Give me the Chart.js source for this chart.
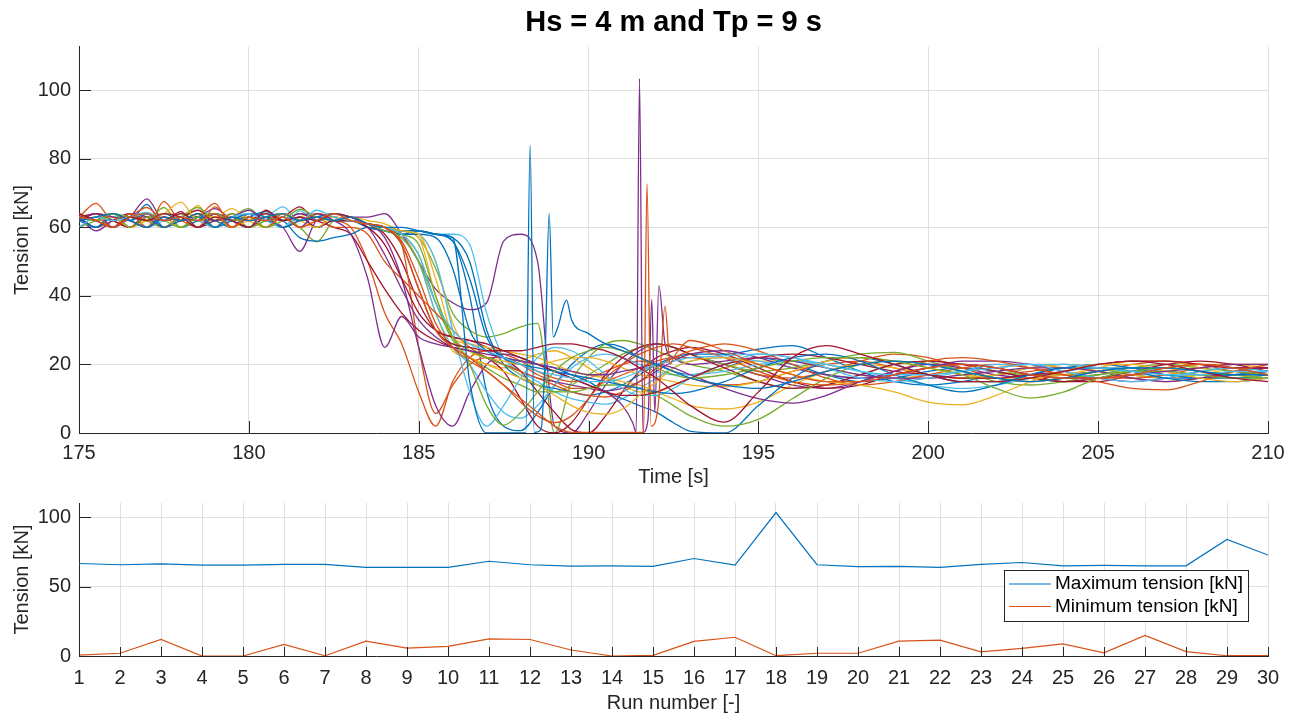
<!DOCTYPE html>
<html>
<head>
<meta charset="utf-8">
<title>Hs = 4 m and Tp = 9 s</title>
<script src="https://cdn.jsdelivr.net/npm/chart.js@4.4.1/dist/chart.umd.min.js"></script>
<style>
  body { margin: 0; background: #fff; }
  canvas { position: absolute; left: 0; }
  #top { top: 0; }
  #bottom { top: 483px; }
</style>
</head>
<body>
<canvas id="top" width="1301" height="490"></canvas>
<canvas id="bottom" width="1301" height="236"></canvas>
<script>
// time samples shared by all runs (finer steps around the slack events)
const timeGrid = [175, 175.5, 176, 176.5, 177, 177.5, 178, 178.5, 179, 179.5, 180, 180.5, 181, 181.5, 182, 182.5, 183,
    183.5, 184, 184.5, 185, 185.5, 186, 186.5, 187, 187.5, 188, 188.5, 189, 189.5, 190, 190.5, 191, 191.5, 192, 192.5, 193,
    194, 195, 196, 197, 198, 199, 200, 201, 202, 203, 204, 205, 206, 207, 208, 209, 210];
const timeTicks = [175, 180, 185, 190, 195, 200, 205, 210];
const tensionTicks = [0, 20, 40, 60, 80, 100];

// tension [kN] per run (null = sample replaced by a spike below)
const run01 = [63,60,64,62,66.7,60,63,62,64,60,63,64,62,63,60,62,62, 60,59,58,59,58,56,40,12,2,0.7,6,14,20,24,26,25,22,20,18,17, 19,22,20,17,15,16,18,19,18,16,15,16,18,19,18,16,16];
const run02 = [62,64,60,63,65.8,62,63,60,64,62,63,60,64,62,63,62,60, 50,35,26,12,2,15,22,24,23,21,18,16,15,16,18,20,21,20,18,16, 14,15,18,20,21,19,17,16,17,18,19,18,16,15,16,18,19];
const run03 = [64,62,63,60,63,64,62,66.4,60,63,62,64,60,63,64,62,63, 62,61,58,50,35,24,22,20,19,21,23,24,22,19,16,14,12,12,14,16, 19,21,21,19,17,16,17,18,19,20,19,18,17,18,20,20,19];
const run04 = [60,63,62,64,60,63,62,63,65.5,62,60,63,64,62,63,64,63, 63,64,58,50,42,38,36,38,56,58,50,2,0,6,14,20,24,26,25,23, 20,17,14,13,15,18,20,19,17,16,17,18,19,18,17,17,18];
const run05 = [63,62,64,60,63,62,64,63,60,63,65.5,62,63,60,55.8,62,63, 61,60,59,57,48,35,30,28,29,31,32,0,15,22,26,27,26,24,22,20, 18,15,13,14,17,20,21,20,18,17,17,18,19,19,18,17,17];
const run06 = [62,63,60,64,62,63,60,63,62,64,62,63,66,62,63,62,63, 61,60,59,59,58,58,55,35,22,18,15,12,10,9,8.4,10,13,16,19,21, 22,21,19,17,16,17,19,20,19,17,16,17,18,17,16,17,18];
const run07 = [63,64,62,60,63,62,64,62,63,60,64,62,63,66,62,63,62, 61,58,50,38,30,28,27,25,22,18,12,6,1,0,5,12,18,22,24,25, 23,19,15,13,14,17,19,20,19,17,15,15,17,19,20,19,17];
const run08 = [62,63,60,64,62,63,60,62,64,62,60,63,62,57,56,57,58, 60,60,59,59,58,57,50,30,20,16,14,13,12,11,12,14,17,20,22,23, 23,24.5,25.5,22,18,15,14,15,17,19,20,19,17,16,16,17,18];
const run09 = [63,60,62,64,62,60,63,62,60,64,62,63,60,62,64,63,62, 61,60,55,25,5.7,14,20,22,22,20,17,15,13,13,15,17,19,21,22,22, 20,17,16,18,21,23,22,19,16,15,16,18,20,21,20,18,17];
const run10 = [62,64,63,60,62,63,60,64,62,60,63,62,64,60,62,63,62, 61,60,59,57,40,28,26,25,24,23,22,20,18,17,16,15,14,12,10,8, 7,9,14,18,20,19,17,16,17,19,20,19,17,16,17,18,19];
const run11 = [62,64,60,63,68.3,62,63,60,64,62,63,62,60,53,62,63,62, 60,52,42,33,28,25,24,22,20,18,16,15,14,13,12.3,13,15,18,21,23, 24,22,19,17,16,17,19,21,21,20,18,16,15,16,18,19,19];
const run12 = [63,62,60,63,62,65.8,60,63,62,64,60,62,63,62,64,63,62, 61,60,58,52,38,27,22,19,16,14,12,12,14,17,20,23,25,26,25,23, 20,18,19,21,23,23.5,21,18,15,14,15,17,19,20,19,18,17];
const run13 = [60,63,62,64,60,62,63,60,63,62,64,63,60,64.8,62,63,62, 61,59,57,50,35,25,20,12,6,4.3,8,14,19,22,23,22,20,18,17,17, 18,20,21,20,18,16,14,13,14,16,18,19,19,18,17,16,16];
const run14 = [64,62,63,60,64,62,63,65,62,63,60,63,62,64,62,60,58, 50,42,35,30,27,25,24,22,18,10,2,0,3,10,17,22,25,26,25,23, 19,15,13,14,17,20,21,20,18,16,15,16,18,20,21,20,18];
const run15 = [62,60,63,62,60,64,62,63,62,60,63,64.6,62,63,60,62,62, 60,59,58,58,57,48,30,24,22,21,20,19,17,15,12,10,8,6,3,0.5, 0,8,16,21,22,20,17,15,15,17,19,20,19,17,16,16,17];
const run16 = [63,67,62,64,60,67.5,62,63,67,60,63,62,64,62,63,60,60, 58,50,45,40,35,30,25,22,20,18,16,14,12,11,10.5,12,15,19,22,24, 26,24,20,16,14,15,17,19,20,19,17,16,16,17,19,20,20];
const run17 = [62,63,64,62,60,63,62,64,63,65.5,62,60,63,62,64,63,62, 61,60,59,58,50,32,24,22,21,20,20,21,22,22,21,19,17,16,15,14, 13.5,15,18,21,22,21,19,17,16,16,17,19,21,21,19,17,16];
const run18 = [63,59,62,64,63,60,62,63,64,62,60,63,62,64,63,62,62, 61,57,45,25,8,2,12,20,23,22,20,18,16,14,12,8,null,null,22,20, 21,22,21,19,17,16,16,17,18,19,19,18,16,15,16,18,19];
const run19 = [60,62,64,63,62,60,63,65.8,62,63,60,62,64,62,63,62,63, 61,60,58,55,40,28,24,22,20,17,14,12,12,13,14,14,13,11,8,5, 2,4,10,16,20,21,20,18,16,15,16,17,18,18,17,16,16];
const run20 = [63,62,60,63,64.4,62,63,60,62,63,64,62,60,63,62,64,63, 61,60,59,58,50,30,12,2,8,16,22,25,24,21,17,13,11,11,13,16, 20,23,22,19,16,15,16,18,20,20,18,16,15,16,18,19,18];
const run21 = [62,64,62,60,63,62,64.6,60,62,63,62,64,62,63,60,62,62, 60,55,45,35,30,28,27,26,24,22,20,18,16,14,12,11,11,12,14,16, 20,22,23,22,20,18,17,16,16,17,18,20,21,21,20,19,19];
const run22 = [63,60,63,62,64,60,62,63,60,62,64,63,60,62,63,64,63, 61,60,59,59,58,56,45,28,22,20,19,18,17,16,15,14,13,12,11.5,12, 15,19,22,23,21,17,14,12,14,17,19,19,18,16,15,15,16];
const run23 = [62,63,60,64,62,63,62,60,66,62,63,60,63,62,64,63,62, 61,60,56,45,32,25,21,18,14,9,5,3,5,10,16,20,23,25,26,25, 22,18,15,14,15,18,21,22,21,19,17,15,13,12.6,15,18,20];
const run24 = [64,62,63,60,62,64,67.4,62,63,60,62,63,64,62,60,63,62, 61,60,59,58,45,28,22,20,18,16,14,11,8,6,5.5,7,11,15,19,21, 22,20,17,15,14,12,9,8.2,11,15,18,20,20,18,16,15,16];
const run25 = [62,64,63,62,60,63,62,64,62,63,65,62,63,60,64,62,58, 45,25,34,28,26,25,24,23,22,21,20,19,18,17,17,18,19,20,19,17, 13,10,8.7,11,15,18,20,20,19,17,16,16,17,18,19,20,20];
const run26 = [63,62,64,60,63,62,60,63,64,62,63,60,62,65.3,63,62,63, 61,59,57,50,38,28,20,8,2.3,6,12,18,22,24,25,24,22,19,17,16, 17,19,21,22,22,21,19,17,13,10.2,12,16,18,19,18,17,16];
const run27 = [60,63,62,63,64,62,63,62,60,63,64,62,63,62,65,63,62, 61,60,58,52,38,30,26,24,22,20,18,17,16,15,15,16,18,20,21,22, 22.5,23,22,20,18,17,17,18,19,20,20,19,18,17,17,18,18];
const run28 = [64,62,60,63,62,64,63,60,63,62,60,65,62,63,62,64,63, 61,60,55,42,30,26,25,24,24,24,25,26,26,25,24,22,19,16,12,8, 3.2,12,22,25.5,23,20,17,15,15,16,18,20,21,20,18,16,15];
const run29 = [62,63,64,62,60,63,62,64,60,63,62,63,64,62,63,62,63, 61,60,60,59,58,57,15,0,0,0,null,null,33,29,26,24,22,20,18,16, 14,13,15,18,20,21,20,18,16,15,16,18,19,19,18,17,17];
const run30 = [63,62,60,63,64,62,63,62,64,60,63,62,63,60,62,64,62, 61,60,55,42,30,25,22,18,14,10,6,2,0.2,0.2,0.2,0.2,0.2,null,22,27, 24,20,17,15,15,17,19,20,19,17,16,16,17,19,20,19,17];

// narrow snap-load spikes as [time, tension]
const spike18 = [[191.3, 3], [191.4, 0.2], [191.5, 103.4], [191.6, 0.2], [191.75, 4], [191.86, 39], [191.95, 6], [192.07, 43], [192.25, 26]];
const spike29 = [[188.15, 0], [188.28, 84], [188.4, 0.2], [188.6, 1], [188.72, 22], [188.84, 64], [188.96, 28], [189.1, 31], [189.35, 38.8]];
const spike30 = [[191.62, 0.2], [191.72, 72.8], [191.84, 2], [192.05, 8], [192.25, 37], [192.4, 20]];

// summary per run
const runNumbers = [1,2,3,4,5,6,7,8,9,10,11,12,13,14,15,16,17,18,19,20,21,22,23,24,25,26,27,28,29,30];
const maxTension = [66.7,65.8,66.4,65.5,65.5,66,66,63.9,63.9,63.9,68.3,65.8,64.8,65,64.6,70.3,65.5,103.4,65.8,64.4,64.6,63.9,66,67.4,65,65.3,65,65,84,72.8];
const minTension = [0.7,2,11.9,0,0,8.4,0.2,10.7,5.7,7,12.3,11.9,4.3,0,0.5,10.5,13.5,0.2,2,2,10.7,11.4,3,5.5,8.7,2.3,14.8,3.2,0.2,0.2];
const summaryTicks = [0, 50, 100];

const colors = ['rgb(0,114,189)', 'rgb(217,83,25)', 'rgb(237,177,32)', 'rgb(126,47,142)',
    'rgb(119,172,48)', 'rgb(77,190,238)', 'rgb(162,20,47)'];
const axisColor = '#262626';
const gridColor = '#dfdfdf';

Chart.defaults.font.family = '"Liberation Sans", Arial, Helvetica, sans-serif';
Chart.defaults.color = axisColor;

const runs = [run01, run02, run03, run04, run05, run06, run07, run08, run09, run10,
    run11, run12, run13, run14, run15, run16, run17, run18, run19, run20,
    run21, run22, run23, run24, run25, run26, run27, run28, run29, run30];
const extras = { 18: spike18, 29: spike29, 30: spike30 };

function toPoints(values, extra) {
    const pts = [];
    values.forEach((v, i) => {
        if (v !== null) pts.push({ x: timeGrid[i], y: v });
    });
    (extra || []).forEach(p => pts.push({ x: p[0], y: p[1] }));
    return pts.sort((a, b) => a.x - b.x);
}

// MATLAB style: short tick marks pointing into the axes
const inwardTicks = {
    id: 'inwardTicks',
    afterDraw(chart, args, opts) {
        const { ctx, chartArea: a, scales: { x, y } } = chart;
        ctx.save();
        ctx.strokeStyle = axisColor;
        ctx.lineWidth = 1;
        ctx.beginPath();
        x.ticks.forEach(t => {
            const px = Math.round(x.getPixelForValue(t.value)) + 0.5;
            ctx.moveTo(px, a.bottom);
            ctx.lineTo(px, a.bottom - opts.x);
        });
        y.ticks.forEach(t => {
            const py = Math.round(y.getPixelForValue(t.value)) + 0.5;
            ctx.moveTo(a.left, py);
            ctx.lineTo(a.left + opts.y, py);
        });
        ctx.stroke();
        ctx.restore();
    }
};

const boxLegend = {
    id: 'boxLegend',
    afterDraw(chart, args, opts) {
        const { ctx } = chart;
        ctx.save();
        ctx.fillStyle = '#fff';
        ctx.fillRect(opts.x, opts.y, opts.w, opts.h);
        ctx.strokeStyle = axisColor;
        ctx.lineWidth = 1;
        ctx.strokeRect(opts.x + 0.5, opts.y + 0.5, opts.w, opts.h);
        ctx.font = '19px "Liberation Sans", Arial, sans-serif';
        ctx.textBaseline = 'middle';
        chart.data.datasets.forEach((ds, i) => {
            const yy = opts.y + 14 + i * 22.5;
            ctx.strokeStyle = ds.borderColor;
            ctx.lineWidth = 1.2;
            ctx.beginPath();
            ctx.moveTo(opts.x + 5, yy);
            ctx.lineTo(opts.x + 47, yy);
            ctx.stroke();
            ctx.fillStyle = '#000';
            ctx.fillText(ds.label, opts.x + 51, yy);
        });
        ctx.restore();
    }
};

const tickFont = { size: 20 };
const titleFont = { size: 20 };

new Chart(document.getElementById('top'), {
    type: 'line',
    data: {
        datasets: runs.map((r, i) => ({
            label: 'Run ' + (i + 1),
            data: toPoints(r, extras[i + 1]),
            borderColor: colors[i % colors.length],
            borderWidth: 1.3,
            pointRadius: 0,
            cubicInterpolationMode: 'monotone',
            order: runs.length - 1 - i
        }))
    },
    options: {
        responsive: false,
        animation: false,
        devicePixelRatio: 1,
        layout: { padding: { left: 0, right: 33, top: 0, bottom: 0 } },
        plugins: {
            legend: { display: false },
            tooltip: { enabled: false },
            title: {
                display: true,
                fullSize: false,
                text: 'Hs = 4 m and Tp = 9 s',
                color: '#000',
                font: { size: 29, weight: 'bold' },
                padding: { top: 6, bottom: 6 }
            },
            inwardTicks: { x: 12, y: 12 }
        },
        scales: {
            x: {
                type: 'linear',
                min: 175,
                max: 210,
                afterBuildTicks: s => { s.ticks = timeTicks.map(v => ({ value: v })); },
                afterFit: s => { s.height = 57; },
                grid: { color: gridColor, drawTicks: false },
                border: { color: axisColor },
                ticks: { padding: 8, font: tickFont, maxRotation: 0 },
                title: { display: true, text: 'Time [s]', font: titleFont, padding: { top: 0, bottom: 1 } }
            },
            y: {
                min: 0,
                max: 112.7,
                afterBuildTicks: s => { s.ticks = tensionTicks.map(v => ({ value: v })); },
                afterFit: s => { s.width = 79; },
                grid: { color: gridColor, drawTicks: false },
                border: { color: axisColor },
                ticks: { padding: 8, font: tickFont },
                title: { display: true, text: 'Tension [kN]', font: titleFont, padding: { top: 10, bottom: 0 } }
            }
        }
    },
    plugins: [inwardTicks]
});

new Chart(document.getElementById('bottom'), {
    type: 'line',
    data: {
        datasets: [
            {
                label: 'Maximum tension [kN]',
                data: runNumbers.map((r, i) => ({ x: r, y: maxTension[i] })),
                borderColor: colors[0],
                borderWidth: 1.2,
                pointRadius: 0
            },
            {
                label: 'Minimum tension [kN]',
                data: runNumbers.map((r, i) => ({ x: r, y: minTension[i] })),
                borderColor: colors[1],
                borderWidth: 1.2,
                pointRadius: 0
            }
        ]
    },
    options: {
        responsive: false,
        animation: false,
        devicePixelRatio: 1,
        layout: { padding: { left: 0, right: 33, top: 12, bottom: 0 } },
        plugins: {
            legend: { display: false },
            tooltip: { enabled: false },
            inwardTicks: { x: 9, y: 12 },
            boxLegend: { x: 1004, y: 87, w: 244, h: 51 }
        },
        scales: {
            x: {
                type: 'linear',
                min: 1,
                max: 30,
                afterBuildTicks: s => { s.ticks = runNumbers.map(v => ({ value: v })); },
                afterFit: s => { s.height = 63; },
                grid: { color: gridColor, drawTicks: false },
                border: { color: axisColor },
                ticks: { padding: 10, font: tickFont, maxRotation: 0, autoSkip: false },
                title: { display: true, text: 'Run number [-]', font: titleFont, padding: { top: 0, bottom: 4 } }
            },
            y: {
                min: 0,
                max: 110.3,
                afterBuildTicks: s => { s.ticks = summaryTicks.map(v => ({ value: v })); },
                afterFit: s => { s.width = 79; },
                grid: { color: gridColor, drawTicks: false },
                border: { color: axisColor },
                ticks: { padding: 8, font: tickFont },
                title: { display: true, text: 'Tension [kN]', font: titleFont, padding: { top: 10, bottom: 0 } }
            }
        }
    },
    plugins: [inwardTicks, boxLegend]
});
</script>
</body>
</html>
